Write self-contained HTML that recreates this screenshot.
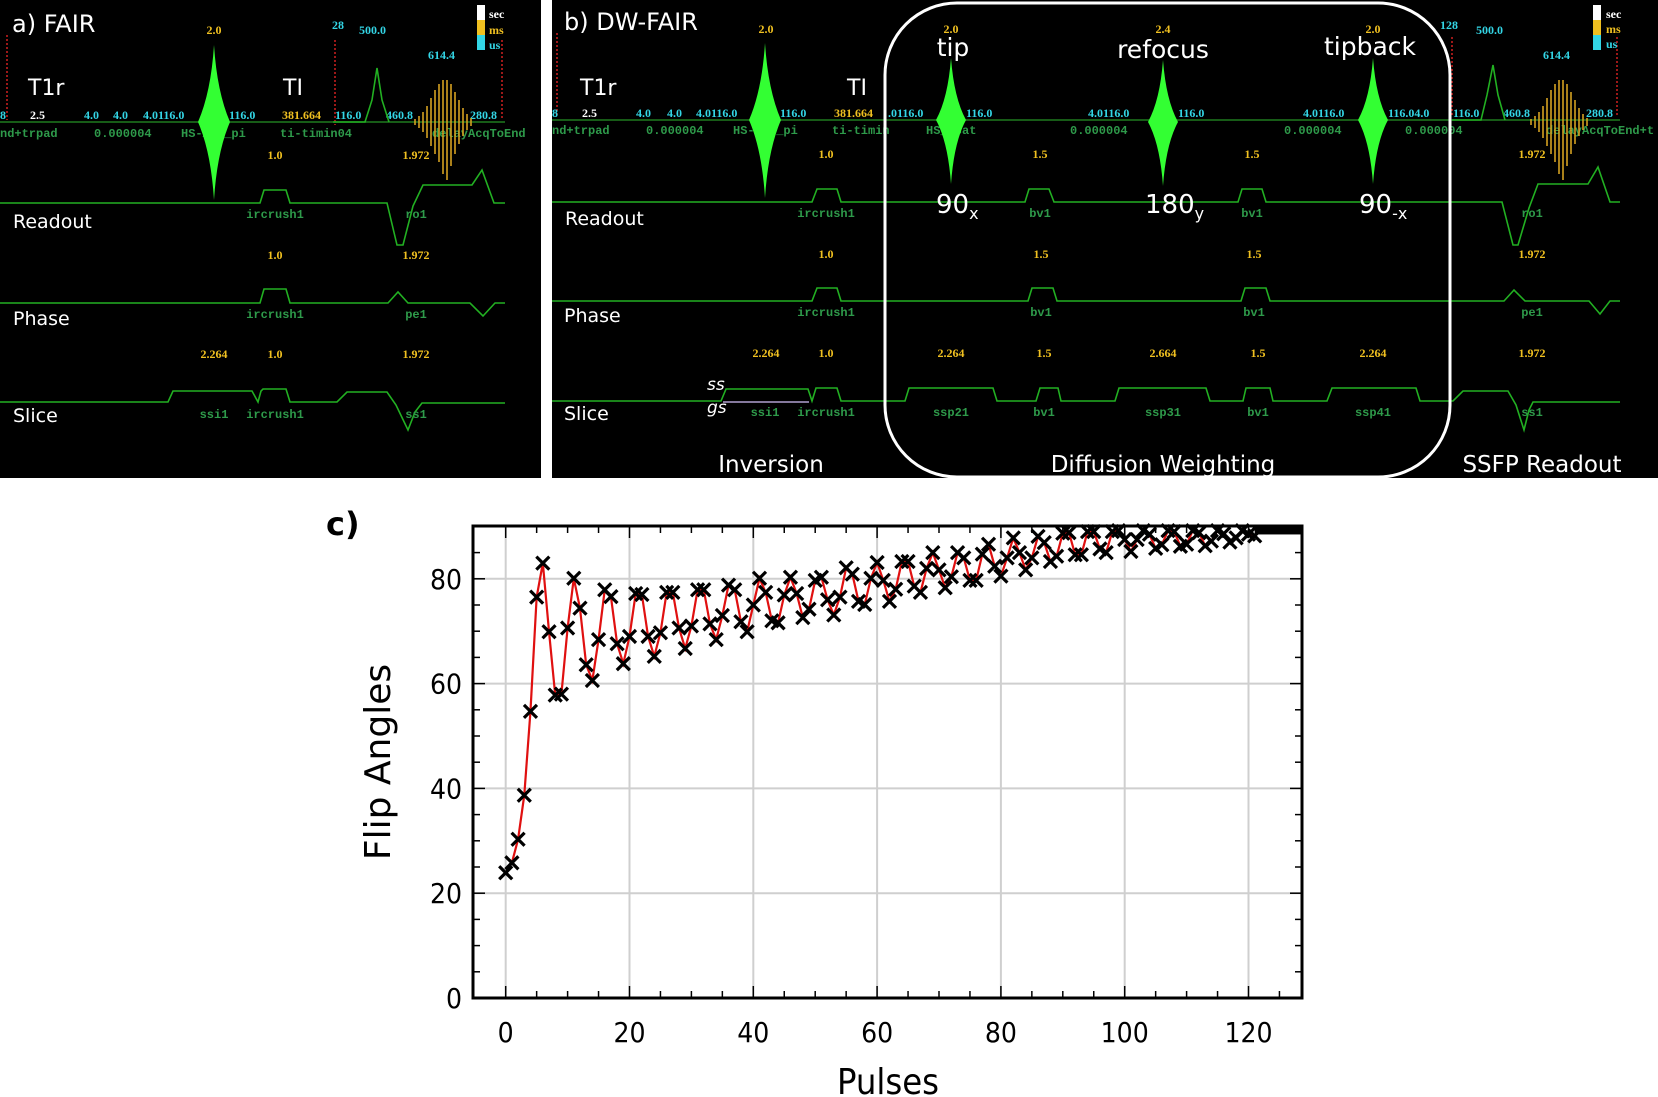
<!DOCTYPE html>
<html><head><meta charset="utf-8">
<style>
html,body{margin:0;padding:0;background:#fff;}
body{width:1658px;height:1097px;overflow:hidden;position:relative;}
svg{position:absolute;left:0;top:0;}
.w{fill:#fff;font-family:"DejaVu Sans","Liberation Sans",sans-serif;}
.n{font-family:"Liberation Serif",serif;font-weight:bold;font-size:12px;}
.c{fill:#33d6e6;} .o{fill:#f0c020;} .g{fill:#2e9a4a;font-family:"Liberation Mono",monospace;font-size:12px;font-weight:bold;}
.ln{stroke:#22b022;stroke-width:1.6;fill:none;}
.ax{stroke:#1f7a1f;stroke-width:1.4;}
.rd{stroke:#d02020;stroke-width:1.5;stroke-dasharray:2 2;}
</style></head>
<body>
<svg width="1658" height="1097" viewBox="0 0 1658 1097">
<defs>
<g id="pulseBig"><path d="M0,-77 Q3,-30 16,0 Q3,30 0,78 Q-3,30 -16,0 Q-3,-30 0,-77Z" fill="#33ff33"/></g>
<g id="pulseMed"><path d="M0,-62 Q3,-22 15,0 Q3,22 0,64 Q-3,22 -15,0 Q-3,-22 0,-62Z" fill="#33ff33"/></g>
<g id="readoutOsc" stroke="#d4a020" stroke-width="1.6">
<line x1="-30" y1="-3" x2="-30" y2="3"/><line x1="-26" y1="-6" x2="-26" y2="6"/><line x1="-22" y1="-10" x2="-22" y2="10"/><line x1="-18" y1="-16" x2="-18" y2="16"/><line x1="-14" y1="-24" x2="-14" y2="24"/><line x1="-10" y1="-32" x2="-10" y2="32"/><line x1="-6" y1="-38" x2="-6" y2="40"/><line x1="-2" y1="-42" x2="-2" y2="52"/><line x1="2" y1="-42" x2="2" y2="58"/><line x1="6" y1="-38" x2="6" y2="44"/><line x1="10" y1="-30" x2="10" y2="32"/><line x1="14" y1="-22" x2="14" y2="22"/><line x1="18" y1="-14" x2="18" y2="14"/><line x1="22" y1="-8" x2="22" y2="8"/><line x1="26" y1="-4" x2="26" y2="4"/>
</g>
</defs>

<!-- Panel A -->
<g>
<rect x="0" y="0" width="541" height="478" fill="#000"/>
<text x="12" y="32" class="w" font-size="24">a) FAIR</text>
<line x1="7" y1="35" x2="7" y2="120" class="rd"/><line x1="335" y1="40" x2="335" y2="125" class="rd"/><line x1="502" y1="40" x2="502" y2="120" class="rd"/>
<rect x="477" y="5" width="8" height="15" fill="#fff"/><rect x="477" y="20" width="8" height="15" fill="#f0c020"/><rect x="477" y="35" width="8" height="15" fill="#33d6e6"/>
<text x="489" y="18" class="w n" font-size="11">sec</text><text x="489" y="34" class="n o">ms</text><text x="489" y="49" class="n c">us</text>
<text x="214" y="34" class="n o" text-anchor="middle">2.0</text>
<text x="332" y="29" class="n c">28</text><text x="359" y="34" class="n c">500.0</text><text x="428" y="59" class="n c">614.4</text>
<text x="28" y="95" class="w" font-size="22">T1r</text><text x="283" y="95" class="w" font-size="22">TI</text>
<line x1="0" y1="122" x2="505" y2="122" class="ax"/>
<text x="0" y="119" class="n c">8</text><text x="30" y="119" class="n w" font-size="12">2.5</text><text x="84" y="119" class="n c">4.0</text><text x="113" y="119" class="n c">4.0</text><text x="143" y="119" class="n c">4.0116.0</text><text x="229" y="119" class="n c">116.0</text><text x="282" y="119" class="n o">381.664</text><text x="335" y="119" class="n c">116.0</text><text x="386" y="119" class="n c">460.8</text><text x="470" y="119" class="n c">280.8</text>
<text x="0" y="137" class="g">nd+trpad</text><text x="94" y="137" class="g">0.000004</text><text x="181" y="137" class="g">HS-AFP_pi</text><text x="280" y="137" class="g">ti-timin04</text><text x="432" y="137" class="g">delayAcqToEnd</text>
<use href="#pulseBig" x="214" y="122"/>
<path d="M333,122 L365,122 L372,100 L377,68 L382,100 L389,122" class="ln"/>
<use href="#readoutOsc" x="445" y="122"/>
<text x="275" y="159" class="n o" text-anchor="middle">1.0</text><text x="416" y="159" class="n o" text-anchor="middle">1.972</text>
<path d="M0,203 L260,203 L264,190 L286,190 L290,203 L337,203 L387,203 L397,245 L403,245 L413,206 L423,185 L472,185 L482,170 L494,203 L505,203" class="ln"/>
<text x="275" y="218" class="g" text-anchor="middle">ircrush1</text><text x="416" y="218" class="g" text-anchor="middle">ro1</text>
<text x="13" y="228" class="w" font-size="19">Readout</text>
<text x="275" y="259" class="n o" text-anchor="middle">1.0</text><text x="416" y="259" class="n o" text-anchor="middle">1.972</text>
<path d="M0,303 L260,303 L264,289 L286,289 L290,303 L337,303 L388,303 L398,292 L408,303 L470,303 L483,316 L495,303 L505,303" class="ln"/>
<text x="275" y="318" class="g" text-anchor="middle">ircrush1</text><text x="416" y="318" class="g" text-anchor="middle">pe1</text>
<text x="13" y="325" class="w" font-size="19">Phase</text>
<text x="214" y="358" class="n o" text-anchor="middle">2.264</text><text x="275" y="358" class="n o" text-anchor="middle">1.0</text><text x="416" y="358" class="n o" text-anchor="middle">1.972</text>
<path d="M0,402 L168,402 L173,391 L252,391 L258,402 L261,391 L263,389 L286,389 L290,402 L337,402 L347,392 L387,392 L396,405 L408,430 L415,412 L422,403 L505,403" class="ln"/>
<text x="214" y="418" class="g" text-anchor="middle">ssi1</text><text x="275" y="418" class="g" text-anchor="middle">ircrush1</text><text x="416" y="418" class="g" text-anchor="middle">ss1</text>
<text x="13" y="422" class="w" font-size="19">Slice</text>
</g>

<!-- Panel B -->
<g>
<rect x="552" y="0" width="1106" height="478" fill="#000"/>
<text x="564" y="30" class="w" font-size="24">b) DW-FAIR</text>
<line x1="557" y1="33" x2="557" y2="115" class="rd"/><line x1="1452" y1="37" x2="1452" y2="115" class="rd"/><line x1="1617" y1="37" x2="1617" y2="115" class="rd"/>
<rect x="1593" y="5" width="8" height="15" fill="#fff"/><rect x="1593" y="20" width="8" height="15" fill="#f0c020"/><rect x="1593" y="35" width="8" height="15" fill="#33d6e6"/>
<text x="1606" y="18" class="w n" font-size="11">sec</text><text x="1606" y="33" class="n o">ms</text><text x="1606" y="48" class="n c">us</text>
<text x="766" y="33" class="n o" text-anchor="middle">2.0</text><text x="951" y="33" class="n o" text-anchor="middle">2.0</text><text x="1163" y="33" class="n o" text-anchor="middle">2.4</text><text x="1373" y="33" class="n o" text-anchor="middle">2.0</text>
<text x="953" y="56" class="w" font-size="25" text-anchor="middle">tip</text>
<text x="1163" y="58" class="w" font-size="25" text-anchor="middle">refocus</text>
<text x="1370" y="55" class="w" font-size="25" text-anchor="middle">tipback</text>
<text x="1440" y="29" class="n c">128</text><text x="1476" y="34" class="n c">500.0</text><text x="1543" y="59" class="n c">614.4</text>
<text x="580" y="95" class="w" font-size="22">T1r</text><text x="847" y="95" class="w" font-size="22">TI</text>
<line x1="552" y1="120" x2="1620" y2="120" class="ax"/>
<text x="552" y="117" class="n c">8</text><text x="582" y="117" class="n w" font-size="12">2.5</text><text x="636" y="117" class="n c">4.0</text><text x="667" y="117" class="n c">4.0</text><text x="696" y="117" class="n c">4.0116.0</text><text x="780" y="117" class="n c">116.0</text><text x="834" y="117" class="n o">381.664</text><text x="888" y="117" class="n c">.0116.0</text><text x="966" y="117" class="n c">116.0</text><text x="1088" y="117" class="n c">4.0116.0</text><text x="1178" y="117" class="n c">116.0</text><text x="1303" y="117" class="n c">4.0116.0</text><text x="1388" y="117" class="n c">116.04.0</text><text x="1453" y="117" class="n c">116.0</text><text x="1503" y="117" class="n c">460.8</text><text x="1586" y="117" class="n c">280.8</text>
<text x="552" y="134" class="g">nd+trpad</text><text x="646" y="134" class="g">0.000004</text><text x="733" y="134" class="g">HS-AFP_pi</text><text x="832" y="134" class="g">ti-timin</text><text x="926" y="134" class="g">HS_psat</text><text x="1070" y="134" class="g">0.000004</text><text x="1284" y="134" class="g">0.000004</text><text x="1405" y="134" class="g">0.000004</text><text x="1546" y="134" class="g">delayAcqToEnd+t</text>
<use href="#pulseBig" x="765" y="120"/>
<use href="#pulseMed" x="951" y="120"/>
<use href="#pulseMed" x="1163" y="122"/>
<use href="#pulseMed" x="1373" y="120"/>
<path d="M1452,120 L1481,120 L1487,95 L1493,65 L1498,95 L1505,120" class="ln"/>
<use href="#readoutOsc" x="1561" y="122"/>
<text x="826" y="158" class="n o" text-anchor="middle">1.0</text><text x="1040" y="158" class="n o" text-anchor="middle">1.5</text><text x="1252" y="158" class="n o" text-anchor="middle">1.5</text><text x="1532" y="158" class="n o" text-anchor="middle">1.972</text>
<path d="M552,202 L812,202 L817,189 L837,189 L841,202 L1025,202 L1029,189 L1049,189 L1054,202 L1238,202 L1242,189 L1262,189 L1266,202 L1502,202 L1513,245 L1518,245 L1529,208 L1538,184 L1588,184 L1598,167 L1610,202 L1620,202" class="ln"/>
<text x="936" y="213" class="w" font-size="26">90<tspan font-size="16" dy="6">x</tspan></text>
<text x="1145" y="213" class="w" font-size="26">180<tspan font-size="16" dy="6">y</tspan></text>
<text x="1359" y="213" class="w" font-size="26">90<tspan font-size="16" dy="6">-x</tspan></text>
<text x="826" y="217" class="g" text-anchor="middle">ircrush1</text><text x="1040" y="217" class="g" text-anchor="middle">bv1</text><text x="1252" y="217" class="g" text-anchor="middle">bv1</text><text x="1532" y="217" class="g" text-anchor="middle">ro1</text>
<text x="565" y="225" class="w" font-size="19">Readout</text>
<text x="826" y="258" class="n o" text-anchor="middle">1.0</text><text x="1041" y="258" class="n o" text-anchor="middle">1.5</text><text x="1254" y="258" class="n o" text-anchor="middle">1.5</text><text x="1532" y="258" class="n o" text-anchor="middle">1.972</text>
<path d="M552,301 L812,301 L817,288 L837,288 L841,301 L1028,301 L1032,288 L1053,288 L1057,301 L1241,301 L1245,288 L1266,288 L1270,301 L1504,301 L1514,290 L1525,301 L1589,301 L1600,314 L1610,301 L1620,301" class="ln"/>
<text x="826" y="316" class="g" text-anchor="middle">ircrush1</text><text x="1041" y="316" class="g" text-anchor="middle">bv1</text><text x="1254" y="316" class="g" text-anchor="middle">bv1</text><text x="1532" y="316" class="g" text-anchor="middle">pe1</text>
<text x="564" y="322" class="w" font-size="19">Phase</text>
<text x="766" y="357" class="n o" text-anchor="middle">2.264</text><text x="826" y="357" class="n o" text-anchor="middle">1.0</text><text x="951" y="357" class="n o" text-anchor="middle">2.264</text><text x="1044" y="357" class="n o" text-anchor="middle">1.5</text><text x="1163" y="357" class="n o" text-anchor="middle">2.664</text><text x="1258" y="357" class="n o" text-anchor="middle">1.5</text><text x="1373" y="357" class="n o" text-anchor="middle">2.264</text><text x="1532" y="357" class="n o" text-anchor="middle">1.972</text>
<line x1="723" y1="402" x2="809" y2="402" stroke="#b0a0d0" stroke-width="1.5"/>
<path d="M552,401 L721,401 L726,389 L808,389 L812,401 L816,388 L837,388 L841,401 L905,401 L909,388 L993,388 L997,401 L1036,401 L1040,388 L1058,388 L1061,401 L1115,401 L1119,388 L1206,388 L1210,401 L1243,401 L1246,388 L1270,388 L1273,401 L1327,401 L1332,388 L1416,388 L1420,401 L1453,401 L1463,391 L1508,391 L1516,405 L1524,430 L1529,410 L1533,402 L1620,402" class="ln"/>
<text x="707" y="390" class="w" font-size="17" font-style="italic">ss</text><text x="707" y="413" class="w" font-size="17" font-style="italic">gs</text>
<text x="765" y="416" class="g" text-anchor="middle">ssi1</text><text x="826" y="416" class="g" text-anchor="middle">ircrush1</text><text x="951" y="416" class="g" text-anchor="middle">ssp21</text><text x="1044" y="416" class="g" text-anchor="middle">bv1</text><text x="1163" y="416" class="g" text-anchor="middle">ssp31</text><text x="1258" y="416" class="g" text-anchor="middle">bv1</text><text x="1373" y="416" class="g" text-anchor="middle">ssp41</text><text x="1532" y="416" class="g" text-anchor="middle">ss1</text>
<text x="564" y="420" class="w" font-size="19">Slice</text>
<rect x="885" y="3" width="565" height="474" rx="72" ry="72" fill="none" stroke="#fff" stroke-width="3"/>
<text x="771" y="472" class="w" font-size="23" text-anchor="middle">Inversion</text>
<text x="1163" y="472" class="w" font-size="23" text-anchor="middle">Diffusion Weighting</text>
<text x="1542" y="472" class="w" font-size="23" text-anchor="middle">SSFP Readout</text>
</g>

<!-- Panel C chart -->
<g id="chart"></g>
</svg>
<script>
const pulses = [0,1,2,3,4,5,6,7,8,9,10,11,12,13,14,15,16,17,18,19,20,21,22,23,24,25,26,27,28,29,30,31,32,33,34,35,36,37,38,39,40,41,42,43,44,45,46,47,48,49,50,51,52,53,54,55,56,57,58,59,60,61,62,63,64,65,66,67,68,69,70,71,72,73,74,75,76,77,78,79,80,81,82,83,84,85,86,87,88,89,90,91,92,93,94,95,96,97,98,99,100,101,102,103,104,105,106,107,108,109,110,111,112,113,114,115,116,117,118,119,120,121];
const flipAngles = [23.9,25.8,30.3,38.7,54.7,76.5,83.0,69.9,57.8,58.0,70.6,80.1,74.4,63.6,60.6,68.4,77.9,76.6,67.6,63.8,69.0,77.2,77.0,69.0,65.2,69.7,77.4,77.4,70.6,66.7,71.0,77.9,77.9,71.4,68.4,73.0,78.8,77.9,71.8,69.9,75.0,80.1,77.4,72.0,71.6,76.9,80.3,77.2,72.6,74.2,79.7,80.3,76.0,73.1,76.5,82.1,80.9,75.7,75.1,80.1,83.1,79.7,75.7,78.0,83.3,83.3,78.6,77.4,82.0,85.0,81.7,78.3,80.4,85.0,84.0,79.7,79.7,84.7,86.6,82.4,80.5,84.0,87.8,85.0,81.7,84.0,88.1,86.9,83.3,84.3,88.7,88.8,84.6,84.6,89.0,89.0,85.7,85.0,89.0,89.2,87.5,85.2,87.5,89.2,88.5,85.8,86.5,89.2,89.0,86.2,86.6,89.2,88.8,86.3,87.2,89.2,88.6,87.0,87.8,89.2,88.5,88.2];
const xTicks = [0,20,40,60,80,100,120];
const yTicks = [0,20,40,60,80];

const NS='http://www.w3.org/2000/svg';
const g=document.getElementById('chart');
const X0=505.7, XS=6.19, Y0=998, YS=5.24;
const L=473, R=1302, T=526, B=998;
function xs(v){return X0+v*XS;}
function ys(v){return Y0-v*YS;}
function mk(tag,attrs){const e=document.createElementNS(NS,tag);for(const k in attrs)e.setAttribute(k,attrs[k]);g.appendChild(e);return e;}

xTicks.forEach(v=>{const e=mk('line',{x1:xs(v),x2:xs(v),y1:T,y2:B,stroke:'#cfcfcf','stroke-width':2});

});
yTicks.forEach(v=>{if(v===0)return;const e=mk('line',{x1:L,x2:R,y1:ys(v),y2:ys(v),stroke:'#cfcfcf','stroke-width':2});

});
for(let v=0;v<=125;v+=5){const big=v%20===0;
mk('line',{x1:xs(v),x2:xs(v),y1:B,y2:B-(big?12:7),stroke:'#000','stroke-width':1.5});
mk('line',{x1:xs(v),x2:xs(v),y1:T,y2:T+(big?12:7),stroke:'#000','stroke-width':1.5});}
for(let v=0;v<=90;v+=5){const big=v%20===0;
mk('line',{x1:L,x2:L+(big?12:7),y1:ys(v),y2:ys(v),stroke:'#000','stroke-width':1.5});
mk('line',{x1:R,x2:R-(big?12:7),y1:ys(v),y2:ys(v),stroke:'#000','stroke-width':1.5});}
const fr=mk('rect',{x:L,y:T,width:R-L,height:B-T,fill:'none',stroke:'#000','stroke-width':3});


const pts=pulses.map((p,i)=>xs(p)+','+ys(flipAngles[i])).join(' ');
const pl=mk('polyline',{points:pts,fill:'none',stroke:'#e01010','stroke-width':2.2});


pulses.forEach((p,i)=>{const cx=xs(p),cy=ys(flipAngles[i]),s=6.5;
const m=mk('path',{d:`M${cx-s},${cy-s}L${cx+s},${cy+s}M${cx-s},${cy+s}L${cx+s},${cy-s}`,stroke:'#000','stroke-width':3.2,fill:'none'});

});
const tail=mk('rect',{x:xs(pulses[pulses.length-1]),y:ys(89.8),width:R-xs(pulses[pulses.length-1]),height:7,fill:'#000'});


xTicks.forEach(v=>{const t=mk('text',{x:xs(v),y:1042,'text-anchor':'middle','font-size':28,'font-family':'"DejaVu Sans Condensed","Liberation Sans",sans-serif',fill:'#000'});t.textContent=v;

});
yTicks.forEach(v=>{const t=mk('text',{x:462,y:ys(v)+10,'text-anchor':'end','font-size':28,'font-family':'"DejaVu Sans Condensed","Liberation Sans",sans-serif',fill:'#000'});t.textContent=v;

});
const yl=mk('text',{x:0,y:0,transform:'translate(390,762) rotate(-90)','text-anchor':'middle','font-size':36,'font-family':'"DejaVu Sans","Liberation Sans",sans-serif',fill:'#000'});yl.textContent='Flip Angles';


const xl=mk('text',{x:888,y:1094,'text-anchor':'middle','font-size':36,'font-family':'"DejaVu Sans Condensed","Liberation Sans",sans-serif',fill:'#000'});xl.textContent='Pulses';


const cl=mk('text',{x:326,y:535,'font-size':32,'font-weight':'bold','font-family':'"DejaVu Sans","Liberation Sans",sans-serif',fill:'#000'});cl.textContent='c)';


</script>
</body></html>
